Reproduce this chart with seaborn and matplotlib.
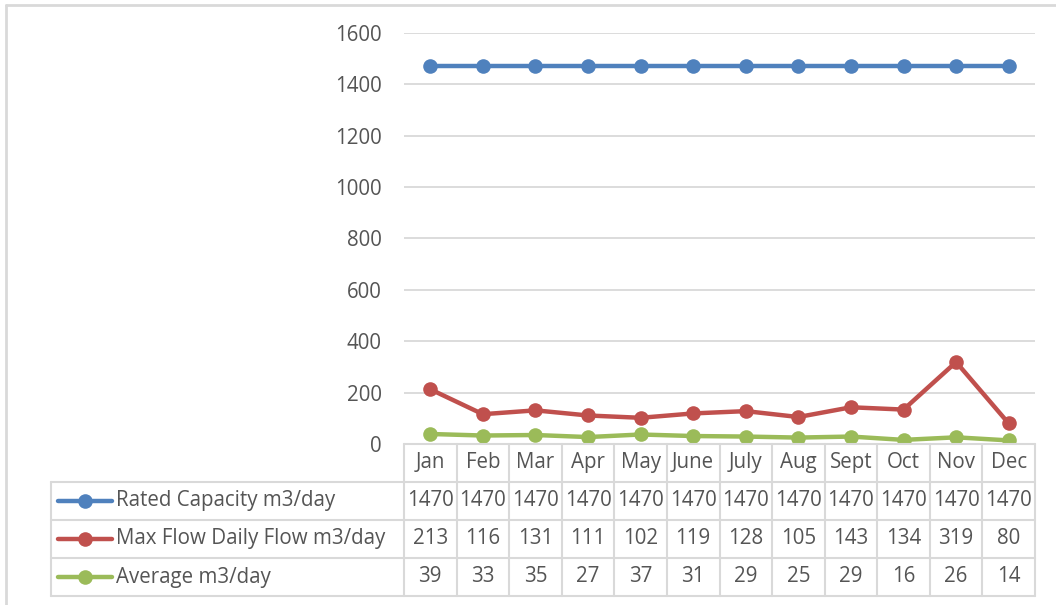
import matplotlib
matplotlib.use("Agg")
import matplotlib.pyplot as plt
import seaborn as sns
import pandas as pd
from matplotlib.lines import Line2D

months = ["Jan", "Feb", "Mar", "Apr", "May", "June", "July", "Aug", "Sept", "Oct", "Nov", "Dec"]
rated = [1470] * 12
max_flow = [213, 116, 131, 111, 102, 119, 128, 105, 143, 134, 319, 80]
average = [39, 33, 35, 27, 37, 31, 29, 25, 29, 16, 26, 14]
series_names = ["Rated Capacity m3/day", "Max Flow Daily Flow m3/day", "Average m3/day"]
colors = ["#4F81BD", "#C0504D", "#9BBB59"]
yticks = [0, 200, 400, 600, 800, 1000, 1200, 1400, 1600]

sns.set_theme(style="white")
plt.rcParams['font.family'] = ['Open Sans', 'DejaVu Sans']

W, H = 1056, 605
fig = plt.figure(figsize=(W / 100, H / 100), dpi=100)
FS = 14.8
text_c = "#555555"
grid_c = "#D9D9D9"

# plot area in pixels
px_l, px_r, px_t, px_b = 404, 1035, 33, 444
ax = fig.add_axes([px_l / W, 1 - px_b / H, (px_r - px_l) / W, (px_b - px_t) / H])

df = pd.DataFrame({"month": months * 3,
                   "x": list(range(12)) * 3,
                   "value": rated + max_flow + average,
                   "series": [series_names[0]] * 12 + [series_names[1]] * 12 + [series_names[2]] * 12})
sns.lineplot(data=df, x="x", y="value", hue="series", palette=colors, ax=ax,
             marker="o", markersize=10.5, markeredgewidth=0, linewidth=3.2,
             legend=False, zorder=3)

ax.set_xlim(-0.5, 11.5)
ax.set_ylim(0, 1600)
ax.set_yticks(yticks)
ax.set_yticklabels([str(v) for v in yticks], color=text_c, fontsize=FS)
ax.tick_params(axis="y", length=0, pad=16)
ax.set_xticks([])
ax.set_xlabel("")
ax.set_ylabel("")
for s in ax.spines.values():
    s.set_visible(False)
ax.grid(axis="y", color=grid_c, linewidth=1.3)
ax.set_axisbelow(True)


def fx(px):
    return px / W


def fy(py):
    return 1 - py / H


# table rows (pixel y boundaries)
rows = [444, 481.5, 519.5, 558, 596]
col_w = (px_r - px_l) / 12
leg_l = 51

fig.add_artist(Line2D([fx(px_l), fx(px_r)], [fy(rows[0])] * 2, color=grid_c, lw=1.5))
for r in rows[1:]:
    fig.add_artist(Line2D([fx(leg_l), fx(px_r)], [fy(r)] * 2, color=grid_c, lw=1.5))
for i in range(13):
    x = px_l + i * col_w
    fig.add_artist(Line2D([fx(x), fx(x)], [fy(rows[0]), fy(rows[-1])], color=grid_c, lw=1.5))
fig.add_artist(Line2D([fx(leg_l), fx(leg_l)], [fy(rows[1]), fy(rows[-1])], color=grid_c, lw=1.5))

for i, m in enumerate(months):
    cx = px_l + (i + 0.5) * col_w
    fig.text(fx(cx), fy((rows[0] + rows[1]) / 2), m, ha="center", va="center",
             fontsize=FS, color=text_c)

data_rows = [rated, max_flow, average]
for r, (name, vals, c) in enumerate(zip(series_names, data_rows, colors)):
    cy = fy((rows[r + 1] + rows[r + 2]) / 2)
    fig.add_artist(Line2D([fx(58), fx(112)], [cy, cy], color=c, lw=3.2,
                          solid_capstyle="round"))
    fig.add_artist(Line2D([fx(85)], [cy], color=c, marker="o", markersize=10.5,
                          markeredgewidth=0))
    fig.text(fx(116), cy, name, ha="left", va="center", fontsize=FS, color=text_c)
    for i, v in enumerate(vals):
        cx = px_l + (i + 0.5) * col_w
        fig.text(fx(cx), cy, str(v), ha="center", va="center", fontsize=FS, color=text_c)

# chart border (top and left)
fig.add_artist(Line2D([fx(6), fx(W)], [fy(5), fy(5)], color=grid_c, lw=2))
fig.add_artist(Line2D([fx(6), fx(6)], [fy(5), fy(H)], color=grid_c, lw=2))

fig.savefig("out.png", dpi=100)
